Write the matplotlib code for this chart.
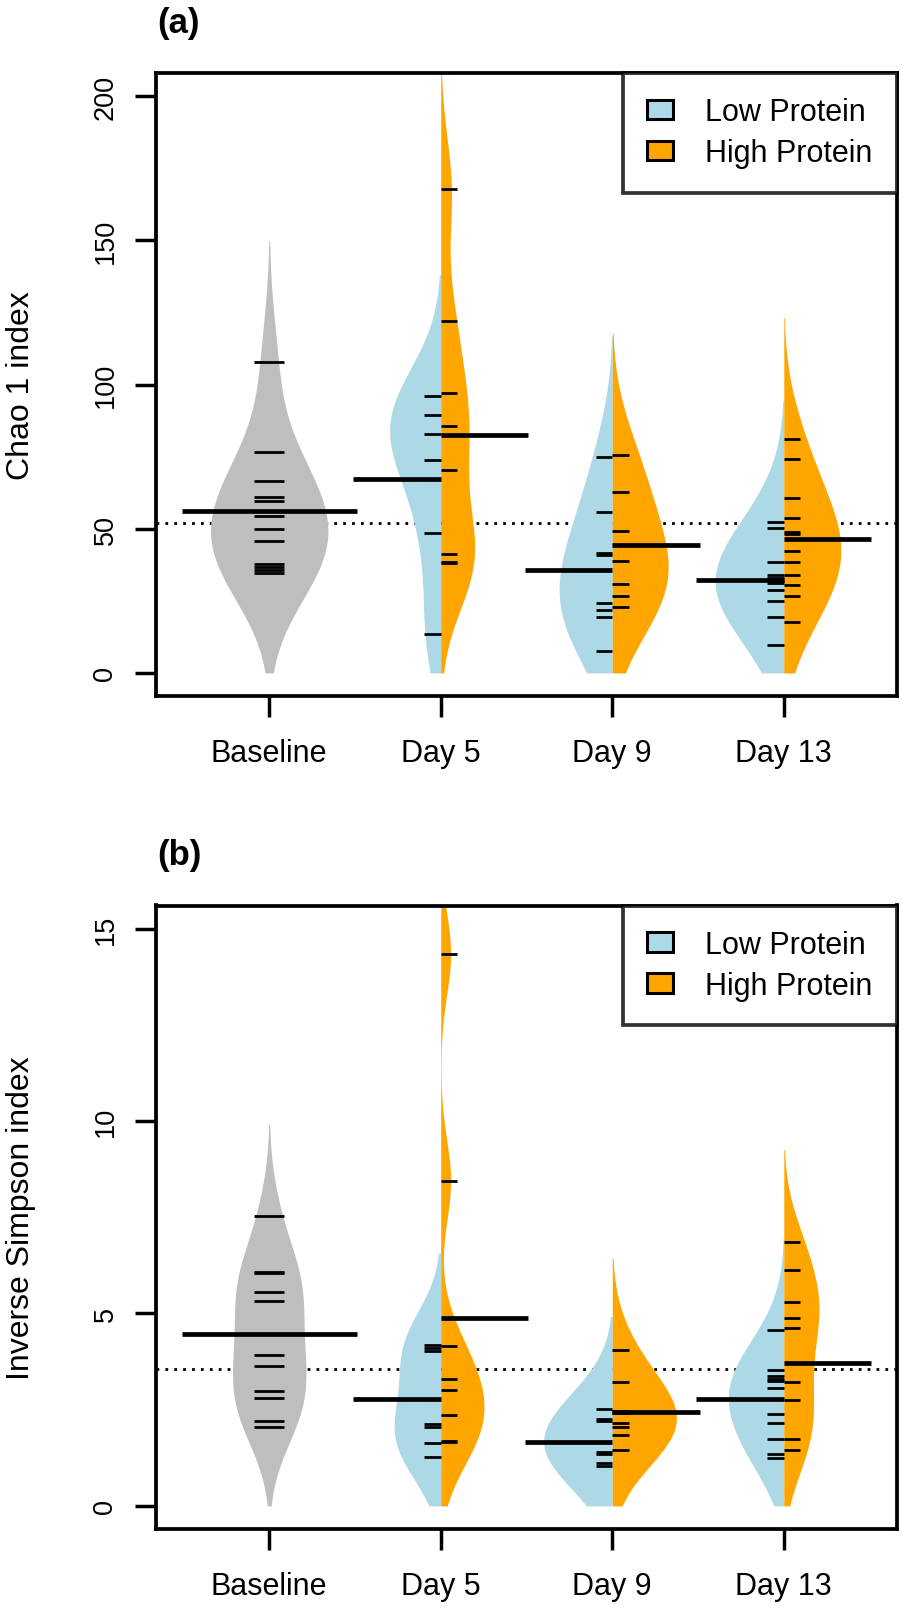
import numpy as np
import matplotlib
matplotlib.use('Agg')
import matplotlib.pyplot as plt
from matplotlib.patches import Patch

plt.rcParams['font.family'] = ['Liberation Sans', 'DejaVu Sans']

# ---------------- data ----------------
groups = ['Baseline', 'Day 5', 'Day 9', 'Day 13']
legend_labels = ['Low Protein', 'High Protein']

# (a) Chao 1 index
chao_base = [107.7, 76.7, 66.6, 61.1, 59.5, 54.4, 49.8, 45.9, 37.6, 36.6, 35.8, 34.6]
chao_base_mean = 56.3
chao_d5_low = [96.0, 89.4, 82.9, 73.8, 48.4, 13.5]
chao_d5_high = [167.7, 121.9, 97.2, 85.7, 70.4, 41.4, 38.6, 38.0]
chao_d9_low = [74.9, 55.9, 41.7, 41.0, 24.2, 21.7, 19.4, 7.7]
chao_d9_high = [75.7, 62.7, 49.1, 38.7, 31.0, 26.5, 22.9]
chao_d13_low = [52.4, 50.1, 38.3, 33.9, 32.8, 31.7, 31.1, 28.6, 25.1, 19.4, 9.8]
chao_d13_high = [81.2, 74.2, 60.5, 53.6, 48.8, 48.0, 42.1, 38.6, 33.9, 30.4, 26.5, 17.5]
chao_low_means = [67.4, 35.8, 32.2]
chao_high_means = [82.5, 44.2, 46.3]
chao_overall = 52.0

# (b) Inverse Simpson index
simp_base = [7.52, 6.09, 6.06, 5.57, 5.33, 4.46, 3.93, 3.63, 2.99, 2.80, 2.21, 2.06]
simp_base_mean = 4.46
simp_d5_low = [4.17, 4.10, 4.03, 2.13, 2.06, 1.64, 1.27]
simp_d5_high = [14.34, 8.45, 4.16, 3.31, 3.00, 2.35, 1.69, 1.66]
simp_d9_low = [2.52, 2.26, 2.20, 1.40, 1.36, 1.12, 1.04]
simp_d9_high = [4.04, 3.23, 2.47, 2.42, 2.15, 2.05, 1.83, 1.46]
simp_d13_low = [4.56, 3.53, 3.38, 3.30, 3.25, 3.07, 2.38, 2.16, 1.73, 1.36, 1.24]
simp_d13_high = [6.86, 6.13, 5.31, 4.87, 4.61, 3.21, 2.76, 1.73, 1.45]
simp_low_means = [2.77, 1.65, 2.79]
simp_high_means = [4.87, 2.45, 3.72]
simp_overall = 3.56

# ---------------- style ----------------
C_BASE = '#BEBEBE'
C_LOW = '#ADD8E6'
C_HIGH = '#FFA500'
W, H = 904, 1608


def kde(vals, bw, tail, lo=0.0, n=600):
    v = np.asarray(vals, dtype=float)
    y = np.linspace(max(lo, v.min() - tail), v.max() + tail, n)
    d = np.exp(-0.5 * ((y[:, None] - v[None, :]) / bw) ** 2).sum(1)
    d /= (len(v) * bw * np.sqrt(2 * np.pi))
    return y, d


def draw_panel(ax, base, base_mean, lows, highs, low_means, high_means,
               overall, bw, tail, ylim, yticks):
    pos = np.arange(1, len(groups) + 1)
    dens_base = kde(base, bw, tail)
    dens_low = [kde(v, bw, tail) for v in lows]
    dens_high = [kde(v, bw, tail) for v in highs]
    dmax = max([dens_base[1].max()] + [d[1].max() for d in dens_low] +
               [d[1].max() for d in dens_high])
    scale = 0.4 / dmax

    ax.axhline(overall, color='black', lw=2.0, ls=(0, (1, 2.2)), zorder=1)

    y, d = dens_base
    ax.fill_betweenx(y, pos[0] - d * scale, pos[0] + d * scale,
                     color=C_BASE, lw=0, zorder=2)
    for i, ((yl, dl), (yh, dh)) in enumerate(zip(dens_low, dens_high)):
        p = pos[i + 1]
        ax.fill_betweenx(yl, p - dl * scale, p, color=C_LOW, lw=0, zorder=2)
        ax.fill_betweenx(yh, p, p + dh * scale, color=C_HIGH, lw=0, zorder=2)

    # individual observations
    ax.hlines(base, pos[0] - 0.087, pos[0] + 0.087, color='black', lw=2.0, zorder=3)
    for i, (vl, vh) in enumerate(zip(lows, highs)):
        p = pos[i + 1]
        ax.hlines(vl, p - 0.095, p, color='black', lw=2.0, zorder=3)
        ax.hlines(vh, p, p + 0.095, color='black', lw=2.0, zorder=3)

    # bean averages
    ax.hlines(base_mean, pos[0] - 0.51, pos[0] + 0.51, color='black', lw=3.4, zorder=4)
    for i, (ml, mh) in enumerate(zip(low_means, high_means)):
        p = pos[i + 1]
        ax.hlines(ml, p - 0.51, p, color='black', lw=3.4, zorder=4)
        ax.hlines(mh, p, p + 0.51, color='black', lw=3.4, zorder=4)

    ax.set_xlim(0.34, 4.66)
    ax.set_ylim(*ylim)
    ax.set_xticks(pos)
    ax.set_xticklabels(groups)
    ax.set_yticks(yticks)
    ax.set_yticklabels([str(t) for t in yticks])
    for s in ax.spines.values():
        s.set_linewidth(2.7)
    ax.tick_params(axis='both', direction='out', length=15, width=2.5)
    ax.tick_params(axis='x', labelsize=22, pad=15)
    ax.tick_params(axis='y', labelsize=19.5, pad=12)
    plt.setp(ax.get_yticklabels(), rotation=90, va='center')

    handles = [Patch(facecolor=C_LOW, edgecolor='black', linewidth=2.2),
               Patch(facecolor=C_HIGH, edgecolor='black', linewidth=2.2)]
    leg = ax.legend(handles, legend_labels, loc='upper right', fontsize=22,
                    frameon=True, fancybox=False, borderaxespad=0,
                    borderpad=0.8, labelspacing=0.35, handlelength=0.85,
                    handleheight=0.6, handletextpad=1.05)
    leg.get_frame().set_edgecolor('black')
    leg.get_frame().set_linewidth(2.7)
    leg.set_zorder(10)


fig = plt.figure(figsize=(W / 100, H / 100), dpi=100)

ax_a = fig.add_axes([156 / W, 1 - 697 / H, (897 - 156) / W, (697 - 74) / H])
draw_panel(ax_a, chao_base, chao_base_mean,
           [chao_d5_low, chao_d9_low, chao_d13_low],
           [chao_d5_high, chao_d9_high, chao_d13_high],
           chao_low_means, chao_high_means, chao_overall,
           bw=18.0, tail=42.0, ylim=(-8, 208), yticks=[0, 50, 100, 150, 200])

ax_b = fig.add_axes([156 / W, 1 - 1530 / H, (897 - 156) / W, (1530 - 906.5) / H])
draw_panel(ax_b, simp_base, simp_base_mean,
           [simp_d5_low, simp_d9_low, simp_d13_low],
           [simp_d5_high, simp_d9_high, simp_d13_high],
           simp_low_means, simp_high_means, simp_overall,
           bw=1.05, tail=2.4, ylim=(-0.6, 15.6), yticks=[0, 5, 10, 15])

fig.text(157 / W, 1 - 24 / H, '(a)', ha='left', va='center', fontsize=25,
         fontweight='bold')
fig.text(157 / W, 1 - 856 / H, '(b)', ha='left', va='center', fontsize=25,
         fontweight='bold')
fig.text(21 / W, 1 - 385.5 / H, 'Chao 1 index', rotation=90, ha='center',
         va='center', fontsize=23)
fig.text(21 / W, 1 - 1218 / H, 'Inverse Simpson index', rotation=90,
         ha='center', va='center', fontsize=23)

fig.savefig('out.png', dpi=100)
